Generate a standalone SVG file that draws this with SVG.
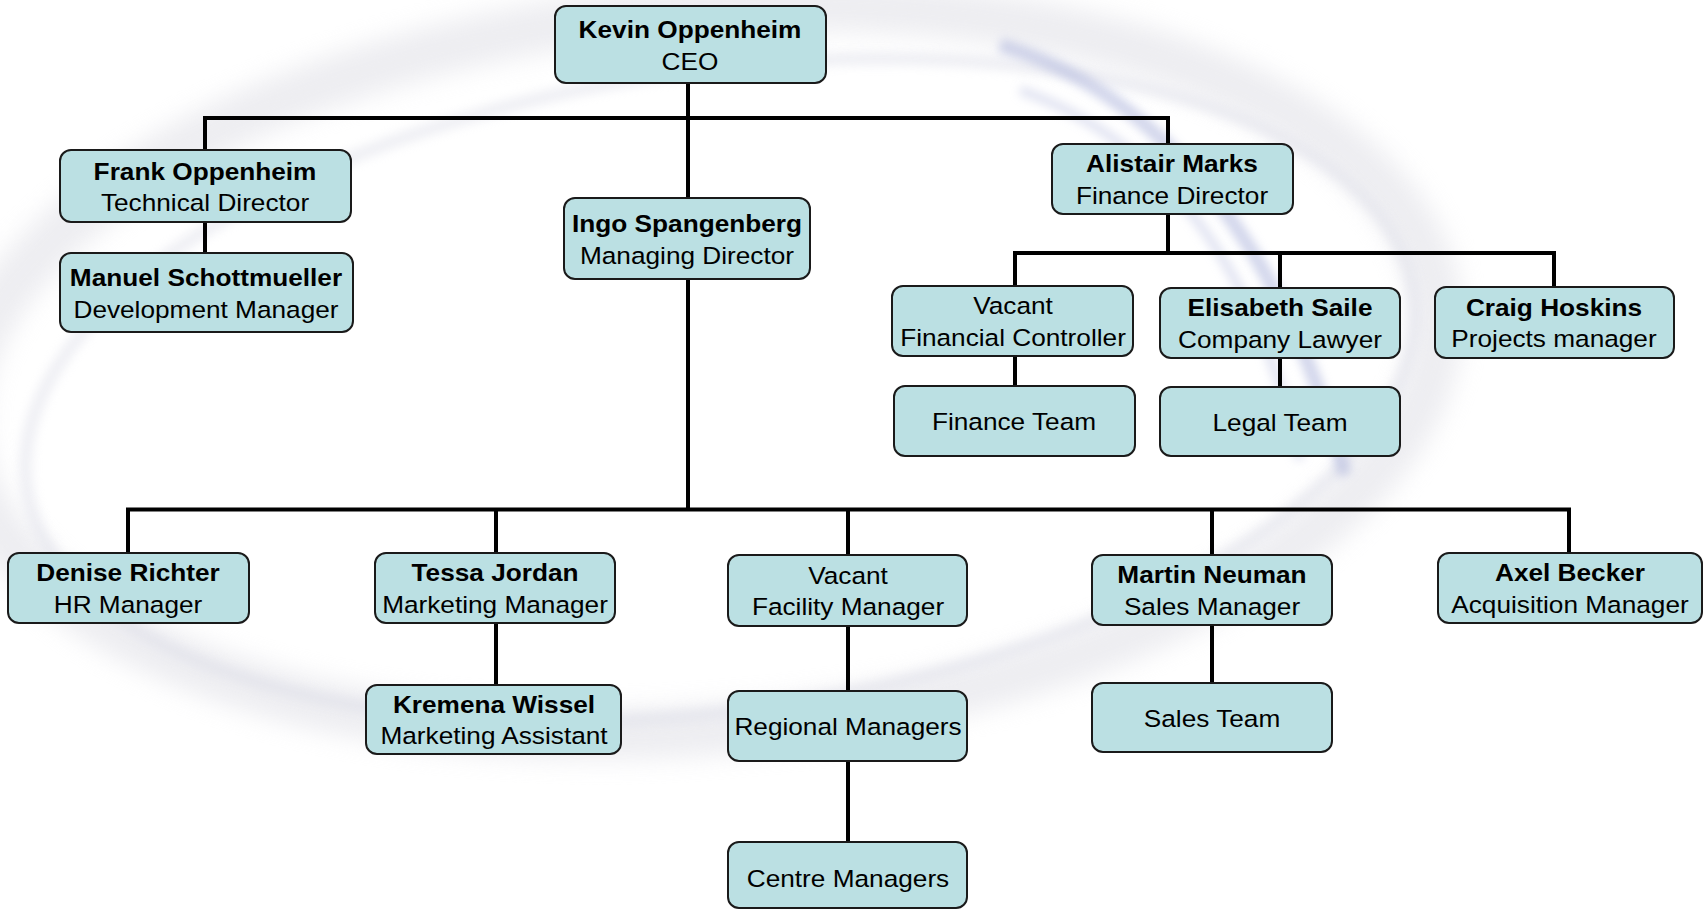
<svg xmlns="http://www.w3.org/2000/svg" width="1707" height="910" viewBox="0 0 1707 910">
<defs>
<filter id="blur12" x="-20%" y="-20%" width="140%" height="140%"><feGaussianBlur stdDeviation="12"/></filter>
<filter id="blur5" x="-20%" y="-20%" width="140%" height="140%"><feGaussianBlur stdDeviation="5"/></filter>
<style>
.box{fill:#bbe0e3;stroke:#1a1a1a;stroke-width:2}
.con{fill:none;stroke:#000;stroke-width:4;stroke-linecap:square}
text{font-family:"Liberation Sans",Arial,sans-serif;font-size:24.5px;fill:#000;text-anchor:middle}
.b{font-weight:bold}
</style>
</defs>
<rect width="1707" height="910" fill="#fff"/>
<g id="background" fill="none">
<ellipse cx="700" cy="370" rx="740" ry="360" transform="rotate(-5 700 370)" stroke="#d8d8e0" stroke-width="50" opacity="0.45" filter="url(#blur12)"/>
<ellipse cx="720" cy="390" rx="700" ry="320" transform="rotate(-8 720 390)" stroke="#dadbe6" stroke-width="14" opacity="0.4" filter="url(#blur5)"/>
<path d="M1000,45 C1150,90 1280,230 1345,475" stroke="#aeb5dc" stroke-width="14" opacity="0.55" filter="url(#blur5)"/>
<path d="M1020,90 C1160,140 1255,260 1300,460" stroke="#c8cce6" stroke-width="10" opacity="0.5" filter="url(#blur5)"/>
</g>
<g id="connectors">
<path class="con" d="M688,83 V509.5 M205,118 H1168 M205,118 V150 M1168,118 V144 M205,222 V253 M1168,214 V253 M1015,253 H1554 M1015,253 V286 M1280,253 V288 M1554,253 V287 M1015,356 V386 M1280,358 V387 M128,509.5 H1569 M128,509.5 V553 M496,509.5 V553 M848,509.5 V555 M1212,509.5 V555 M1569,509.5 V553 M496,623 V685 M848,626 V691 M848,761 V842 M1212,625 V683"/>
</g>
<g id="ceo"><rect class="box" x="555" y="6" width="271" height="77" rx="11"/><g transform="translate(690 0) scale(1.07 1)"><text class="b" x="0" y="38">Kevin Oppenheim</text><text x="0" y="70">CEO</text></g></g>
<g id="frank"><rect class="box" x="60" y="150" width="291" height="72" rx="11"/><g transform="translate(205 0) scale(1.07 1)"><text class="b" x="0" y="180">Frank Oppenheim</text><text x="0" y="211.5">Technical Director</text></g></g>
<g id="manuel"><rect class="box" x="60" y="253" width="293" height="79" rx="11"/><g transform="translate(206 0) scale(1.07 1)"><text class="b" x="0" y="286">Manuel Schottmueller</text><text x="0" y="318">Development Manager</text></g></g>
<g id="ingo"><rect class="box" x="564" y="198" width="246" height="81" rx="11"/><g transform="translate(687 0) scale(1.07 1)"><text class="b" x="0" y="232">Ingo Spangenberg</text><text x="0" y="264">Managing Director</text></g></g>
<g id="alistair"><rect class="box" x="1052" y="144" width="241" height="70" rx="11"/><g transform="translate(1172 0) scale(1.07 1)"><text class="b" x="0" y="172.5">Alistair Marks</text><text x="0" y="204">Finance Director</text></g></g>
<g id="vacant-fc"><rect class="box" x="892" y="286" width="241" height="70" rx="11"/><g transform="translate(1013 0) scale(1.07 1)"><text x="0" y="314.5">Vacant</text><text x="0" y="346">Financial Controller</text></g></g>
<g id="elisabeth"><rect class="box" x="1160" y="288" width="240" height="70" rx="11"/><g transform="translate(1280 0) scale(1.07 1)"><text class="b" x="0" y="316.5">Elisabeth Saile</text><text x="0" y="348">Company Lawyer</text></g></g>
<g id="craig"><rect class="box" x="1435" y="287" width="239" height="71" rx="11"/><g transform="translate(1554 0) scale(1.07 1)"><text class="b" x="0" y="316">Craig Hoskins</text><text x="0" y="347.5">Projects manager</text></g></g>
<g id="finance-team"><rect class="box" x="894" y="386" width="241" height="70" rx="11"/><g transform="translate(1014 0) scale(1.07 1)"><text x="0" y="430.5">Finance Team</text></g></g>
<g id="legal-team"><rect class="box" x="1160" y="387" width="240" height="69" rx="11"/><g transform="translate(1280 0) scale(1.07 1)"><text x="0" y="431">Legal Team</text></g></g>
<g id="denise"><rect class="box" x="8" y="553" width="241" height="70" rx="11"/><g transform="translate(128 0) scale(1.07 1)"><text class="b" x="0" y="581.5">Denise Richter</text><text x="0" y="613">HR Manager</text></g></g>
<g id="tessa"><rect class="box" x="375" y="553" width="240" height="70" rx="11"/><g transform="translate(495 0) scale(1.07 1)"><text class="b" x="0" y="581.5">Tessa Jordan</text><text x="0" y="613">Marketing Manager</text></g></g>
<g id="kremena"><rect class="box" x="366" y="685" width="255" height="69" rx="11"/><g transform="translate(494 0) scale(1.07 1)"><text class="b" x="0" y="713">Kremena Wissel</text><text x="0" y="744.5">Marketing Assistant</text></g></g>
<g id="vacant-fm"><rect class="box" x="728" y="555" width="239" height="71" rx="11"/><g transform="translate(848 0) scale(1.07 1)"><text x="0" y="584">Vacant</text><text x="0" y="615.5">Facility Manager</text></g></g>
<g id="regional"><rect class="box" x="728" y="691" width="239" height="70" rx="11"/><g transform="translate(848 0) scale(1.07 1)"><text x="0" y="735.5">Regional Managers</text></g></g>
<g id="centre"><rect class="box" x="728" y="842" width="239" height="66" rx="11"/><g transform="translate(848 0) scale(1.07 1)"><text x="0" y="887">Centre Managers</text></g></g>
<g id="martin"><rect class="box" x="1092" y="555" width="240" height="70" rx="11"/><g transform="translate(1212 0) scale(1.07 1)"><text class="b" x="0" y="583.5">Martin Neuman</text><text x="0" y="615">Sales Manager</text></g></g>
<g id="sales-team"><rect class="box" x="1092" y="683" width="240" height="69" rx="11"/><g transform="translate(1212 0) scale(1.07 1)"><text x="0" y="727">Sales Team</text></g></g>
<g id="axel"><rect class="box" x="1438" y="553" width="264" height="70" rx="11"/><g transform="translate(1570 0) scale(1.07 1)"><text class="b" x="0" y="581.5">Axel Becker</text><text x="0" y="613">Acquisition Manager</text></g></g>
</svg>
